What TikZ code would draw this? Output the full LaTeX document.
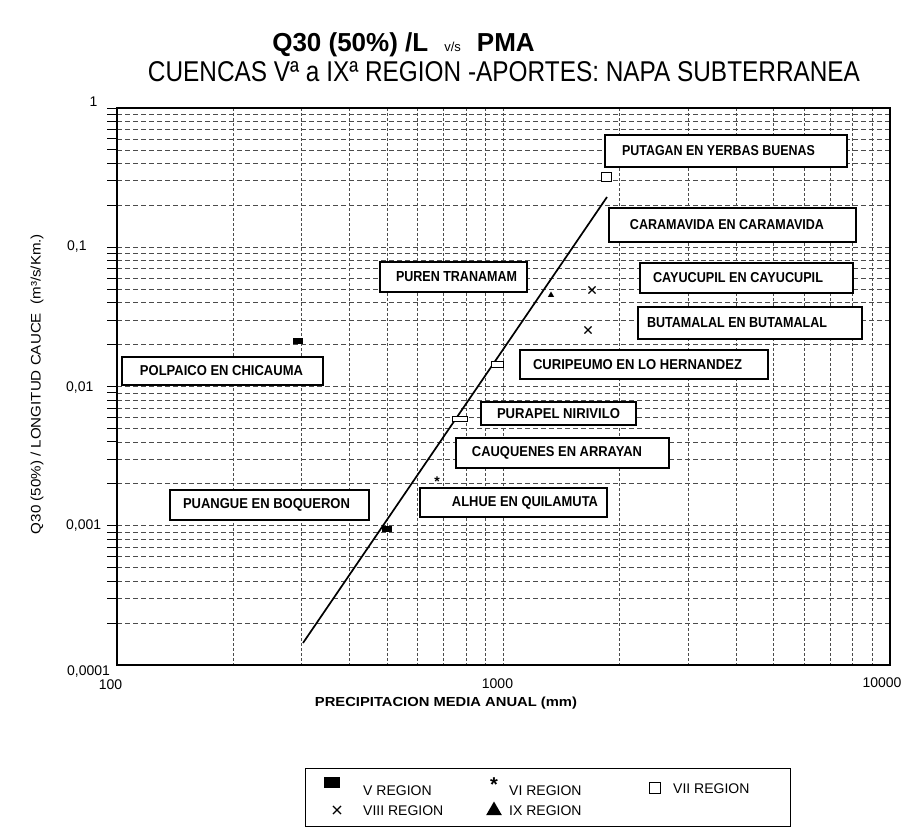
\documentclass[tikz,border=0pt]{standalone}
\usepackage{fontspec}
\setmainfont{Liberation Sans}
\usetikzlibrary{shapes.geometric,shapes.misc,shadows}
\newcommand{\lbl}[2]{\resizebox{#1}{10pt}{\bfseries #2}}
\begin{document}
\begin{tikzpicture}[x=1pt,y=-1pt,
  hgrid/.style={black!70, line width=0.7pt, dash pattern=on 5pt off 3pt},
  vgrid/.style={black!70, line width=0.7pt, dash pattern=on 2.5pt off 2.5pt},
  tickmark/.style={black, line width=0.9pt},
  lblbox/.style={draw, fill=white, line width=1.3pt, rectangle, inner sep=0pt,
    drop shadow={opacity=1, fill=black!85, shadow xshift=1.3pt, shadow yshift=-1.3pt}},
  vpt/.style={rectangle, fill=black, minimum width=10pt, minimum height=6pt, inner sep=0pt},
  viipt/.style={rectangle, draw, line width=0.8pt, fill=white, inner sep=0pt},
  vipt/.style={inner sep=0pt, anchor=base, font=\bfseries\fontsize{14}{14}\selectfont},
  ixpt/.style={regular polygon, regular polygon sides=3, fill=black, inner sep=0pt, minimum size=7pt},
  viiipt/.style={cross out, draw, line width=1.1pt, minimum size=6pt, inner sep=0pt},
  ticklbl/.style={inner sep=0pt, font=\fontsize{14}{14}\selectfont},
  legtxt/.style={inner sep=0pt, anchor=base west, font=\fontsize{14}{14}\selectfont}]
\useasboundingbox (0,0) rectangle (903,827);

% grid
\foreach \d in {0,1}{
  \foreach \m in {2,...,9}{
    \pgfmathsetmacro\xx{117+386.5*(\d+ln(\m)/ln(10))}
    \draw[vgrid] (\xx,108) -- (\xx,665);
  }}
\draw[vgrid] (503.5,108) -- (503.5,665);
\foreach \d in {0,1,2,3}{
  \foreach \m in {2,...,9}{
    \pgfmathsetmacro\yy{665-139.25*(\d+ln(\m)/ln(10))}
    \draw[hgrid] (117,\yy) -- (890,\yy);
    \draw[tickmark] (107,\yy) -- (117,\yy);
  }}
\foreach \d in {1,2,3}{
  \pgfmathsetmacro\yy{665-139.25*\d}
  \draw[hgrid] (117,\yy) -- (890,\yy);
  \draw[tickmark] (107,\yy) -- (117,\yy);
}
\draw[tickmark] (107,108) -- (117,108);

% frame
\draw[line width=2pt] (117,108) rectangle (890,665);

% regression line
\coordinate (lA) at (303,643);
\coordinate (lB) at (607,197);
\draw[line width=1.7pt] (lA) -- (lB);

% data points
\node[vpt] (v1) at (298,341) {};
\node[vpt] (v2) at (387,529) {};
\node[viipt, minimum width=10pt, minimum height=9pt] (vii1) at (606,177) {};
\node[viipt, minimum width=12pt, minimum height=6pt] (vii2) at (497,364) {};
\node[viipt, minimum width=15pt, minimum height=5pt] (vii3) at (460,419) {};
\node[vipt] (vi1) at (437,486) {*};
\node[ixpt] (ix1) at (551,295) {};
\node[viiipt] (viii1) at (592,290) {};
\node[viiipt] (viii2) at (588,330) {};

% label boxes
\node[lblbox, minimum width=242pt, minimum height=32pt] (putagan) at (726,151) {\lbl{193pt}{PUTAGAN EN YERBAS BUENAS}\hspace*{15pt}};
\node[lblbox, minimum width=247pt, minimum height=34pt] (caramavida) at (732.5,225) {\lbl{194pt}{CARAMAVIDA EN CARAMAVIDA}\hspace*{11pt}};
\node[lblbox, minimum width=147pt, minimum height=30pt] (puren) at (453.5,277) {\hspace*{6pt}\lbl{121pt}{PUREN TRANAMAM}};
\node[lblbox, minimum width=213pt, minimum height=30pt] (cayucupil) at (746.5,278) {\lbl{170pt}{CAYUCUPIL EN CAYUCUPIL}\hspace*{17pt}};
\node[lblbox, minimum width=224pt, minimum height=32pt] (butamalal) at (750,323) {\lbl{180pt}{BUTAMALAL EN BUTAMALAL}\hspace*{26pt}};
\node[lblbox, minimum width=248pt, minimum height=29pt] (curipeumo) at (644,364.5) {\lbl{209pt}{CURIPEUMO EN LO HERNANDEZ}\hspace*{13pt}};
\node[lblbox, minimum width=155pt, minimum height=23pt] (purapel) at (558.5,413.5) {\lbl{123pt}{PURAPEL NIRIVILO}};
\node[lblbox, minimum width=213pt, minimum height=30pt] (cauquenes) at (562.5,453) {\lbl{170pt}{CAUQUENES EN ARRAYAN}\hspace*{11pt}};
\node[lblbox, minimum width=187pt, minimum height=29pt] (alhue) at (513.5,502.5) {\hspace*{23pt}\lbl{146pt}{ALHUE EN QUILAMUTA}};
\node[lblbox, minimum width=201pt, minimum height=28pt] (polpaico) at (222.5,371) {\lbl{163pt}{POLPAICO EN CHICAUMA}\hspace*{2pt}};
\node[lblbox, minimum width=199pt, minimum height=30pt] (puangue) at (269.5,505) {\lbl{167pt}{PUANGUE EN BOQUERON}\hspace*{6pt}};

% tick labels
\node[ticklbl, anchor=base] (y1) at (93.5,106) {1};
\node[ticklbl, anchor=base west] (y01) at (67,250) {0,1};
\node[ticklbl, anchor=base west] (y001) at (66,391) {0,01};
\node[ticklbl, anchor=base west] (y0001) at (66,529) {0,001};
\node[ticklbl, anchor=base west] (y00001) at (67,675) {0,0001};
\node[ticklbl, anchor=base] (x100) at (110.5,689) {100};
\node[ticklbl, anchor=base] (x1000) at (497.5,688) {1000};
\node[ticklbl, anchor=base] (x10000) at (882,687) {10000};

% axis titles
\node[inner sep=0pt] (xtitle) at (446,703) {\resizebox{262pt}{9.5pt}{\bfseries PRECIPITACION MEDIA ANUAL (mm)}};
\node[inner sep=0pt, rotate=90] (ytitle) at (37,384) {\resizebox{300pt}{10pt}{Q30 (50\%) / LONGITUD CAUCE\ \ (m³/s/Km.)}};

% titles
\node[inner sep=0pt, anchor=base] (title1) at (403.5,51) {\fontsize{26}{26}\selectfont\bfseries Q30 (50\%) /L\hspace{16pt}{\fontsize{13}{13}\selectfont\mdseries v/s}\hspace{16pt}PMA};
\node[inner sep=0pt] (title2) at (504,72) {\resizebox{712pt}{20pt}{CUENCAS Vª a IXª REGION -APORTES: NAPA SUBTERRANEA}};

% legend
\node[draw, line width=1pt, minimum width=485pt, minimum height=58pt, inner sep=0pt] (legend) at (547.5,797) {};
\node[vpt, minimum width=16pt, minimum height=11pt] (lgv) at (332,782) {};
\node[legtxt] (lgvt) at (363,795) {V REGION};
\node[viiipt, minimum size=7pt] (lgviii) at (337,810) {};
\node[legtxt] (lgviiit) at (363,815) {VIII REGION};
\node[inner sep=0pt, anchor=base, font=\bfseries\fontsize{20}{20}\selectfont] (lgvi) at (494,791) {*};
\node[legtxt] (lgvit) at (509,795) {VI REGION};
\node[ixpt, minimum size=18pt] (lgix) at (494,810.5) {};
\node[legtxt] (lgixt) at (509,815) {IX REGION};
\node[viipt, minimum width=11pt, minimum height=11pt, line width=1.1pt] (lgvii) at (655,788) {};
\node[legtxt] (lgviit) at (673,793) {VII REGION};
\end{tikzpicture}
\end{document}
